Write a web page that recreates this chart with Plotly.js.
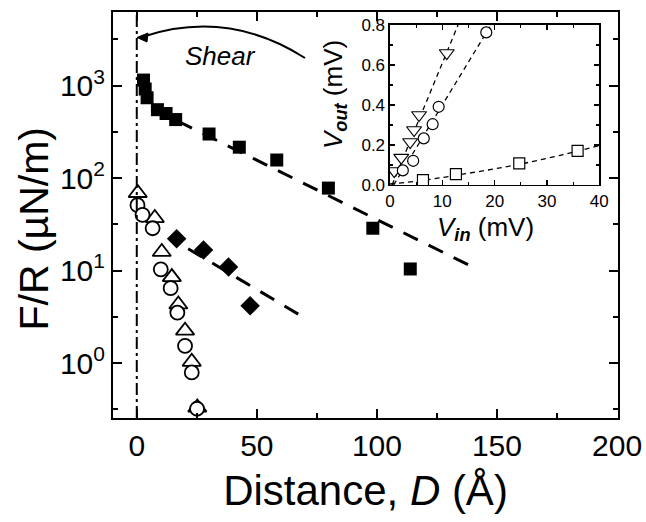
<!DOCTYPE html>
<html><head><meta charset="utf-8">
<script src="https://cdn.plot.ly/plotly-3.0.1.min.js"></script>
<style>html,body{margin:0;padding:0;background:#fff}</style>
</head><body>
<div id="chart" style="width:646px;height:522px"></div>
<script>
// ---- Main panel: F/R vs distance D ----
const sqD = [2.8, 3.5, 4.3, 8.6, 12.2, 16.2, 30.1, 42.7, 58.3, 79.8, 98.3, 113.9];
const sqF = [1150, 920, 740, 550, 500, 430, 300, 216, 157, 78, 28.7, 10.4];
const sqFitD = [17, 140];
const sqFitF = [415, 10.9];

const dmD = [16.6, 27.8, 38.2, 47.2];
const dmF = [22.1, 16.7, 10.9, 4.15];
const dmFitD = [21.4, 69.4];
const dmFitF = [17.2, 3.13];

const trD = [0.4, 7.5, 10.4, 14.6, 17.3, 20.1, 22.9, 25.2];
const trF = [69, 37, 15.9, 8.5, 4.3, 2.24, 1.03, 0.33];

const ciD = [0.3, 2.4, 6.6, 10.0, 14.1, 16.9, 20.1, 22.9, 25.1];
const ciF = [51, 40, 28.7, 10.3, 6.45, 3.5, 1.53, 0.79, 0.32];

const xTicks = [0, 50, 100, 150, 200];
const yTicks = [1, 10, 100, 1000];
const yTickText = ['10<sup>0</sup>', '10<sup>1</sup>', '10<sup>2</sup>', '10<sup>3</sup>'];
const yMinor = [0.316, 3.16, 31.6, 316, 3162];

// ---- Inset: Vout vs Vin ----
const tvIn = [0.8, 2.15, 3.85, 4.6, 5.55, 10.85];
const tvOut = [0.07, 0.137, 0.215, 0.275, 0.35, 0.66];
const tvFitIn = [0.4, 13.0];
const tvFitOut = [0, 0.8];

const cvIn = [2.45, 4.43, 6.45, 8.15, 9.3, 18.4];
const cvOut = [0.073, 0.121, 0.233, 0.304, 0.391, 0.763];
const cvFitIn = [0.7, 19.3];
const cvFitOut = [0, 0.8];

const svIn = [6.3, 12.6, 24.7, 35.85];
const svOut = [0.024, 0.054, 0.108, 0.171];
const svFitIn = [0, 6, 13, 25, 36, 40];
const svFitOut = [0.005, 0.022, 0.05, 0.105, 0.17, 0.197];

const insetXTicks = [0, 10, 20, 30, 40];

const FONT = 'Liberation Sans, Arial, Helvetica, sans-serif';
const BIGDASH = '16px,12px';
const SMALLDASH = '5px,4px';

const traces = [
  {x: sqFitD, y: sqFitF, mode: 'lines', line: {color: 'black', width: 3, dash: BIGDASH}, xaxis: 'x', yaxis: 'y'},
  {x: dmFitD, y: dmFitF, mode: 'lines', line: {color: 'black', width: 3, dash: BIGDASH}, xaxis: 'x', yaxis: 'y'},
  {x: sqD, y: sqF, mode: 'markers', marker: {symbol: 'square', size: 13, color: 'black'}, xaxis: 'x', yaxis: 'y'},
  {x: dmD, y: dmF, mode: 'markers', marker: {symbol: 'diamond', size: 15, color: 'black'}, xaxis: 'x', yaxis: 'y'},
  {x: trD, y: trF, mode: 'markers', marker: {symbol: 'triangle-up', size: 16, color: 'white', line: {color: 'black', width: 1.8}}, xaxis: 'x', yaxis: 'y'},
  {x: ciD, y: ciF, mode: 'markers', marker: {symbol: 'circle', size: 14, color: 'white', line: {color: 'black', width: 1.8}}, xaxis: 'x', yaxis: 'y'},

  {x: tvFitIn, y: tvFitOut, mode: 'lines', line: {color: 'black', width: 1.3, dash: SMALLDASH}, xaxis: 'x2', yaxis: 'y2'},
  {x: cvFitIn, y: cvFitOut, mode: 'lines', line: {color: 'black', width: 1.3, dash: SMALLDASH}, xaxis: 'x2', yaxis: 'y2'},
  {x: svFitIn, y: svFitOut, mode: 'lines', line: {color: 'black', width: 1.3, dash: SMALLDASH, shape: 'spline'}, xaxis: 'x2', yaxis: 'y2'},
  {x: tvIn, y: tvOut, mode: 'markers', marker: {symbol: 'triangle-down', size: 13, color: 'white', line: {color: 'black', width: 1.2}}, xaxis: 'x2', yaxis: 'y2'},
  {x: cvIn, y: cvOut, mode: 'markers', marker: {symbol: 'circle', size: 11, color: 'white', line: {color: 'black', width: 1.2}}, xaxis: 'x2', yaxis: 'y2'},
  {x: svIn, y: svOut, mode: 'markers', marker: {symbol: 'square', size: 11, color: 'white', line: {color: 'black', width: 1.2}}, xaxis: 'x2', yaxis: 'y2'}
];

const mainAxis = {
  showline: true, linecolor: 'black', linewidth: 2, mirror: 'ticks',
  ticks: 'inside', ticklen: 9, tickwidth: 2, tickcolor: 'black',
  showgrid: false, zeroline: false,
  tickfont: {family: FONT, size: 30, color: 'black'}
};
const insetAxis = {
  showline: true, linecolor: 'black', linewidth: 1.5, mirror: 'ticks',
  ticks: 'inside', ticklen: 5, tickwidth: 1.5, tickcolor: 'black',
  showgrid: false, zeroline: false,
  tickfont: {family: FONT, size: 17, color: 'black'}
};

const layout = {
  width: 646, height: 522,
  margin: {l: 113, r: 28, t: 12, b: 104},
  paper_bgcolor: 'white', plot_bgcolor: 'white',
  showlegend: false,
  font: {family: FONT, color: 'black'},
  xaxis: Object.assign({}, mainAxis, {
    domain: [0, 1], anchor: 'y', range: [-9.9, 200.4],
    tickmode: 'array', tickvals: xTicks,
    minor: {tick0: 0, dtick: 25, ticks: 'inside', ticklen: 5, tickwidth: 2, tickcolor: 'black'},
    title: {text: 'Distance, <i>D</i> (Å)', font: {family: FONT, size: 42, color: 'black'}, standoff: 15}
  }),
  yaxis: Object.assign({}, mainAxis, {
    domain: [0, 1], anchor: 'x', type: 'log', range: [-0.595, 3.797],
    tickmode: 'array', tickvals: yTicks, ticktext: yTickText,
    minor: {tickmode: 'array', tickvals: yMinor, ticks: 'inside', ticklen: 5, tickwidth: 2, tickcolor: 'black'}
  }),
  xaxis2: Object.assign({}, insetAxis, {
    domain: [0.5485, 0.963], anchor: 'y2', range: [0, 40],
    tickmode: 'array', tickvals: insetXTicks,
    minor: {tick0: 0, dtick: 5, ticks: 'inside', ticklen: 3, tickwidth: 1.2, tickcolor: 'black'}
  }),
  yaxis2: Object.assign({}, insetAxis, {
    domain: [0.5739, 0.968], anchor: 'x2', range: [0, 0.8],
    tick0: 0, dtick: 0.2, tickformat: '.1f',
    minor: {tick0: 0, dtick: 0.1, ticks: 'inside', ticklen: 3, tickwidth: 1.2, tickcolor: 'black'}
  }),
  shapes: [
    {type: 'line', xref: 'x', yref: 'paper', x0: 0, x1: 0, y0: 0, y1: 1,
     line: {color: 'black', width: 2, dash: '12px,4px,3px,4px'}},
    {type: 'path', xref: 'paper', yref: 'paper',
     path: 'M 0.3802,0.8867 Q 0.2267,1.0086 0.0574,0.9384',
     line: {color: 'black', width: 2}},
    {type: 'path', xref: 'paper', yref: 'paper',
     path: 'M 0.0475,0.9372 L 0.0693,0.9483 L 0.0673,0.9261 Z',
     fillcolor: 'black', line: {color: 'black', width: 1}}
  ],
  annotations: [
    {text: 'F/R (µN/m)', xref: 'paper', yref: 'paper', x: -0.1564, y: 0.4667,
     xanchor: 'center', yanchor: 'middle', textangle: -90, showarrow: false,
     font: {family: FONT, size: 41, color: 'black'}},
    {text: '<i>Shear</i>', xref: 'paper', yref: 'paper', x: 0.2119, y: 0.8916,
     xanchor: 'center', yanchor: 'middle', showarrow: false,
     font: {family: FONT, size: 26, color: 'black'}},
    {text: '<i>V</i><sub><b><i>in</i></b></sub> (mV)', xref: 'paper', yref: 'paper', x: 0.738, y: 0.466,
     xanchor: 'center', yanchor: 'middle', showarrow: false,
     font: {family: FONT, size: 26, color: 'black'}},
    {text: '<i>V</i><sub><b><i>out</i></b></sub> (mV)', xref: 'paper', yref: 'paper', x: 0.4376, y: 0.798,
     xanchor: 'center', yanchor: 'middle', textangle: -90, showarrow: false,
     font: {family: FONT, size: 26, color: 'black'}}
  ]
};

Plotly.newPlot('chart', traces, layout, {displayModeBar: false, staticPlot: true});
</script>
</body></html>
